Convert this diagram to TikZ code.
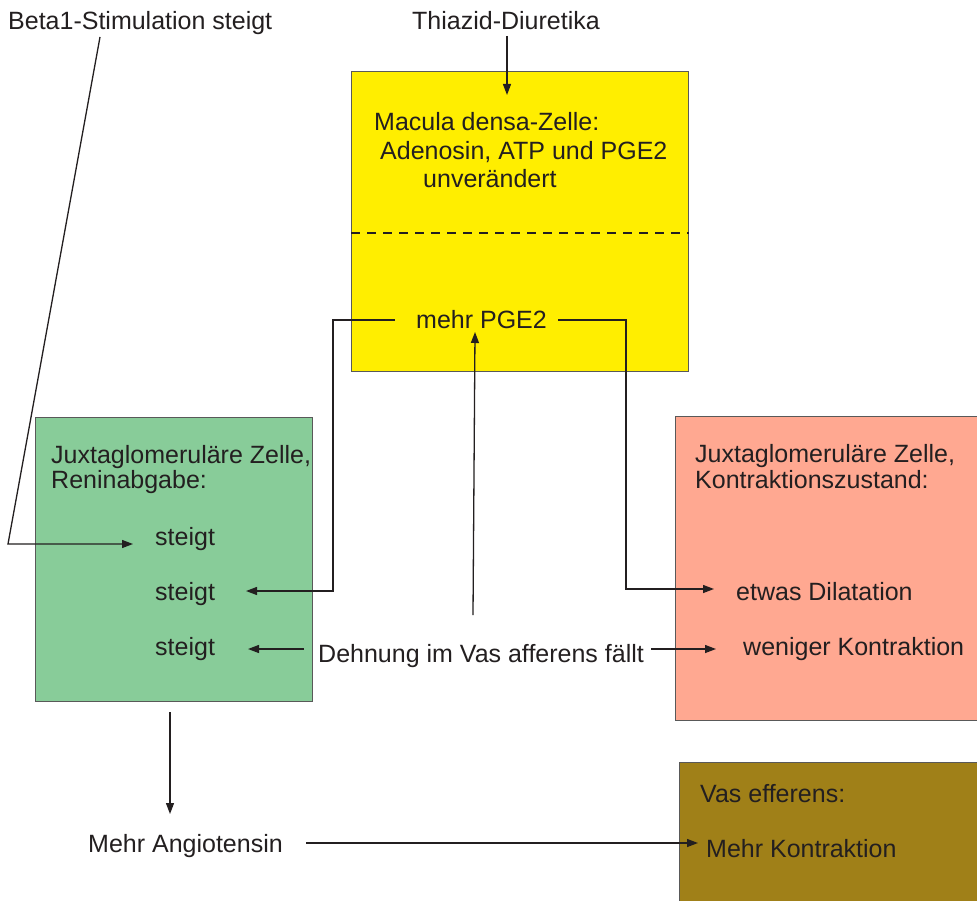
\documentclass[tikz,border=0pt]{standalone}
\usepackage{fontspec}
\setmainfont{Liberation Sans}
\usetikzlibrary{arrows.meta}
\definecolor{ybox}{RGB}{255,238,0}
\definecolor{gbox}{RGB}{136,204,153}
\definecolor{pbox}{RGB}{255,168,145}
\definecolor{bbox}{RGB}{160,128,24}
\definecolor{ink}{RGB}{35,31,32}
\begin{document}
\begin{tikzpicture}[x=1pt,y=-1pt,
  txt/.style={anchor=base west, inner sep=0pt, font=\fontsize{25}{30}\selectfont, text=ink},
  cbox/.style={draw=black!65, line width=0.9pt, anchor=north west, inner sep=0pt},
  arr/.style={-{Triangle[length=11pt,width=8pt]}, line width=1.3pt, draw=ink},
  ln/.style={line width=1.3pt, draw=ink}]
\useasboundingbox (0,0) rectangle (977,901);
\clip (0,0) rectangle (977,901);
\fill[white] (0,0) rectangle (977,901);
% boxes
\node[cbox, fill=ybox, minimum width=337pt, minimum height=300pt] (mac) at (351,71) {};
\node[cbox, fill=gbox, minimum width=277pt, minimum height=284pt] (jgr) at (35,417) {};
\node[cbox, fill=pbox, minimum width=310pt, minimum height=304pt] (jgk) at (675,416) {};
\node[cbox, fill=bbox, minimum width=310pt, minimum height=160pt] (vef) at (679,762) {};
\draw[ln, dash pattern=on 9pt off 7pt] (mac.west |- 0,233) -- (mac.east |- 0,233);
% texts
\node[txt] (beta) at (8,30) {Beta1-Stimulation steigt};
\node[txt] (thia) at (412,30) {Thiazid-Diuretika};
\node[txt] (m1) at (374,131) {Macula densa-Zelle:};
\node[txt] (m2) at (380,160) {Adenosin, ATP und PGE2};
\node[txt] (m3) at (423,188) {unverändert};
\node[txt] (pge) at (416,328) {mehr PGE2};
\node[txt] (g1) at (51,463) {Juxtaglomeruläre Zelle,};
\node[txt] (g2) at (51,488) {Reninabgabe:};
\node[txt] (s1) at (155,545) {steigt};
\node[txt] (s2) at (155,600) {steigt};
\node[txt] (s3) at (155,655) {steigt};
\node[txt] (k1) at (695,462) {Juxtaglomeruläre Zelle,};
\node[txt] (k2) at (695,488) {Kontraktionszustand:};
\node[txt] (dil) at (736,600) {etwas Dilatation};
\node[txt] (wen) at (743,655) {weniger Kontraktion};
\node[txt] (deh) at (318,662) {Dehnung im Vas afferens fällt};
\node[txt] (ang) at (88,852) {Mehr Angiotensin};
\node[txt] (v1) at (700,802) {Vas efferens:};
\node[txt] (v2) at (706,857) {Mehr Kontraktion};
% connector end points
\coordinate (thiaS) at (507,36);
\coordinate (macT) at (507,95);
\coordinate (betaS) at (100,37);
\coordinate (betaK) at (8,544);
\coordinate (s1T) at (133,544);
\coordinate (pgeL) at (395,320);
\coordinate (pgeLK) at (333,320);
\coordinate (s2T) at (246,591);
\coordinate (pgeR) at (558,320);
\coordinate (pgeRK) at (626,320);
\coordinate (dilT) at (714,589);
\coordinate (dehU) at (473,615);
\coordinate (pgeB) at (475,332);
\coordinate (dehL) at (304,649);
\coordinate (s3T) at (248,649);
\coordinate (dehR) at (651,649);
\coordinate (wenT) at (716,649);
\coordinate (jgrB) at (170,712);
\coordinate (angT) at (170,814);
\coordinate (angR) at (306,843);
\coordinate (v2T) at (698,843);
% connectors
\draw[arr] (thiaS) -- (macT);
\draw[arr] (betaS) -- (betaK) -- (s1T);
\draw[arr] (pgeL) -- (pgeLK) |- (s2T);
\draw[arr] (pgeR) -- (pgeRK) |- (dilT);
\draw[arr] (dehU) -- (pgeB);
\draw[arr] (dehL) -- (s3T);
\draw[arr] (dehR) -- (wenT);
\draw[arr] (jgrB) -- (angT);
\draw[arr] (angR) -- (v2T);
\end{tikzpicture}
\end{document}
